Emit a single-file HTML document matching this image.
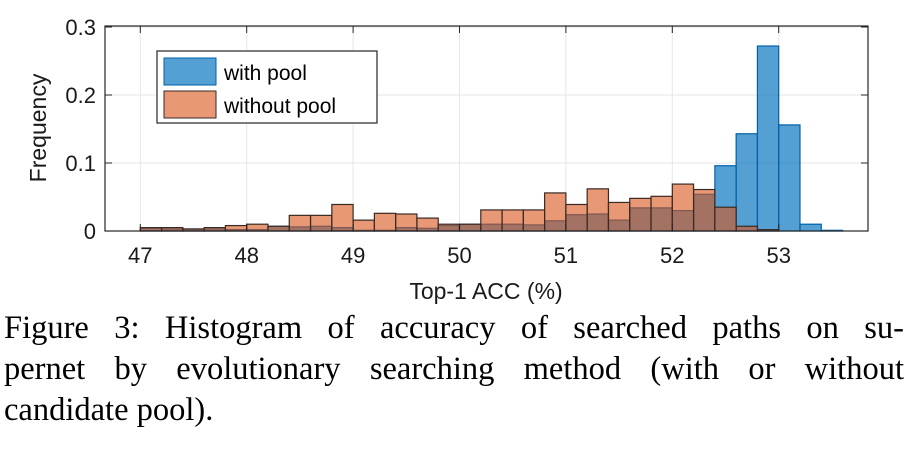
<!DOCTYPE html>
<html><head><meta charset="utf-8"><style>
body{margin:0;background:#fff;width:916px;height:460px;overflow:hidden;position:relative}
#cap{position:absolute;left:4px;top:308px;width:900px;font-family:"Liberation Serif",serif;font-size:32.5px;line-height:41px;color:#000}
#cap .j{text-align:justify;text-align-last:justify;white-space:nowrap}
</style></head><body>
<svg id="chart" width="916" height="305" style="position:absolute;left:0;top:0" font-family="Liberation Sans, sans-serif"></svg>
<div id="cap"><div class="j">Figure 3: Histogram of accuracy of searched paths on su-</div><div class="j">pernet by evolutionary searching method (with or without</div><div>candidate pool).</div></div>
<script>
const binStarts=[47.0,47.2,47.4,47.6,47.8,48.0,48.2,48.4,48.6,48.8,49.0,49.2,49.4,49.6,49.8,50.0,50.2,50.4,50.6,50.8,51.0,51.2,51.4,51.6,51.8,52.0,52.2,52.4,52.6,52.8,53.0,53.2,53.4];
const withPool=[0.004,0.003,0.003,0.003,0.002,0.002,0.007,0.006,0.007,0.005,0.001,0.001,0.005,0.004,0.008,0.010,0.010,0.010,0.009,0.015,0.024,0.025,0.016,0.034,0.034,0.030,0.054,0.096,0.143,0.272,0.156,0.010,0.001];
const withoutPool=[0.005,0.005,0.003,0.005,0.008,0.010,0.007,0.023,0.023,0.039,0.016,0.026,0.025,0.019,0.010,0.010,0.031,0.031,0.031,0.056,0.039,0.062,0.042,0.048,0.051,0.069,0.061,0.035,0.007,0.002,0,0,0];
const xTicks=[47,48,49,50,51,52,53];
const yTicks=[0,0.1,0.2,0.3];
const binWidth=0.2;
const svg=document.getElementById('chart');
const NS='http://www.w3.org/2000/svg';
const L=105,R=868,T=26,B=231;
const X=v=>140.3+(v-47)*106.4;
const Y=v=>B-v*680;
function mk(t,a,p){const e=document.createElementNS(NS,t);for(const k in a)e.setAttribute(k,a[k]);(p||svg).appendChild(e);return e;}
xTicks.forEach(t=>{const g=mk('line',{x1:X(t),x2:X(t),y1:T,y2:B,stroke:'#e6e6e6','stroke-width':1});

});
yTicks.forEach(t=>{const g=mk('line',{x1:L,x2:R,y1:Y(t),y2:Y(t),stroke:'#e6e6e6','stroke-width':1});

});
binStarts.forEach((s,i)=>{if(withPool[i]>0){const r=mk('rect',{x:X(s),y:Y(withPool[i]),width:X(s+binWidth)-X(s),height:B-Y(withPool[i]),fill:'rgba(0,114,189,0.67)',stroke:'#0060a8','stroke-width':1.2});

}});
binStarts.forEach((s,i)=>{if(withoutPool[i]>0){const r=mk('rect',{x:X(s),y:Y(withoutPool[i]),width:X(s+binWidth)-X(s),height:B-Y(withoutPool[i]),fill:'rgba(217,83,25,0.6)',stroke:'#3a2a24','stroke-width':1.2});

}});
const box=mk('rect',{x:L,y:T,width:R-L,height:B-T,fill:'none',stroke:'#262626','stroke-width':1.2});


xTicks.forEach(t=>{mk('line',{x1:X(t),x2:X(t),y1:B,y2:B-7,stroke:'#262626'});mk('line',{x1:X(t),x2:X(t),y1:T,y2:T+7,stroke:'#262626'});
const l=mk('text',{x:X(t),y:B+32,'text-anchor':'middle','font-size':22,fill:'#1a1a1a'});l.textContent=t;

});
yTicks.forEach(t=>{mk('line',{x1:L,x2:L+7,y1:Y(t),y2:Y(t),stroke:'#262626'});mk('line',{x1:R,x2:R-7,y1:Y(t),y2:Y(t),stroke:'#262626'});
const l=mk('text',{x:L-9,y:Y(t)+8,'text-anchor':'end','font-size':22,fill:'#1a1a1a'});l.textContent=t===0?'0':t.toString();

});
const xt=mk('text',{x:486,y:299,'text-anchor':'middle','font-size':23,fill:'#1a1a1a'});xt.textContent='Top-1 ACC (%)';


const yt=mk('text',{x:46,y:128,'text-anchor':'middle','font-size':23,fill:'#1a1a1a',transform:'rotate(-90 46 128)'});yt.textContent='Frequency';


const lg=mk('g',{});


mk('rect',{x:157,y:51,width:220,height:72,fill:'#fff',stroke:'#262626','stroke-width':1.2},lg);
mk('rect',{x:164,y:58,width:52,height:27,fill:'rgba(0,114,189,0.67)',stroke:'#0060a8'},lg);
mk('rect',{x:164,y:91,width:52,height:27,fill:'rgba(217,83,25,0.6)',stroke:'#3a2a24'},lg);
const t1=mk('text',{x:224,y:80,'font-size':21,fill:'#000'},lg);t1.textContent='with pool';


const t2=mk('text',{x:224,y:113,'font-size':21,fill:'#000'},lg);t2.textContent='without pool';


</script>
</body></html>
